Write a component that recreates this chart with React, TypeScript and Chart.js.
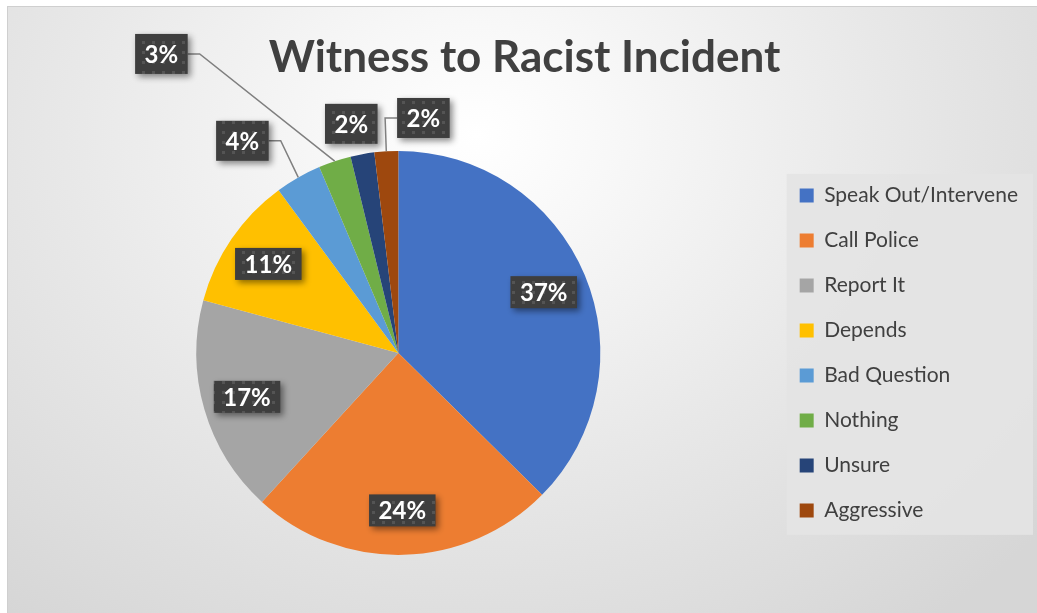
import React, { useEffect, useRef } from "react";
import { Chart, registerables } from "chart.js";

Chart.register(...registerables);

// ---------- data ----------
const chartTitle = "Witness to Racist Incident";
const categories = [
  "Speak Out/Intervene",
  "Call Police",
  "Report It",
  "Depends",
  "Bad Question",
  "Nothing",
  "Unsure",
  "Aggressive",
];
const shares = [37.4, 24.4, 17.4, 10.7, 3.7, 2.6, 1.9, 1.9];
const sliceColors = [
  "#4472C4",
  "#ED7D31",
  "#A5A5A5",
  "#FFC000",
  "#5B9BD5",
  "#70AD47",
  "#264478",
  "#9E480E",
];

// callout placement for the small slices (label centre relative to pie centre, in radii)
const calloutPlacement: Record<number, [number, number]> = {
  4: [-0.772, -1.05],
  5: [-1.173, -1.48],
  6: [-0.233, -1.134],
  7: [0.124, -1.163],
};

const FONT = "Lato, 'Open Sans', sans-serif";

function makePattern(ctx: CanvasRenderingContext2D) {
  const c = document.createElement("canvas");
  c.width = 10;
  c.height = 10;
  const g = c.getContext("2d")!;
  g.fillStyle = "#3e3e3e";
  g.fillRect(0, 0, 10, 10);
  g.fillStyle = "#545454";
  g.fillRect(4, 4, 3, 3);
  return ctx.createPattern(c, "repeat")!;
}

const legendBackground = {
  id: "legendBackground",
  beforeDraw(chart: any) {
    const legend = chart.legend;
    if (!legend || !legend.legendHitBoxes || !legend.legendHitBoxes.length) return;
    const hb = legend.legendHitBoxes;
    let minL = Infinity;
    let maxR = -Infinity;
    hb.forEach((b: any) => {
      minL = Math.min(minL, b.left);
      maxR = Math.max(maxR, b.left + b.width);
    });
    const top = hb[0].top - 11;
    const last = hb[hb.length - 1];
    const bottom = last.top + last.height + 14;
    const ctx = chart.ctx;
    ctx.save();
    ctx.fillStyle = "rgba(228,228,228,0.92)";
    ctx.fillRect(minL - 13, top, maxR - minL + 28, bottom - top);
    ctx.restore();
  },
};

const boxLabels = {
  id: "boxLabels",
  afterDatasetsDraw(chart: any) {
    const ctx: CanvasRenderingContext2D = chart.ctx;
    const meta = chart.getDatasetMeta(0);
    const data = chart.data.datasets[0].data as number[];
    const total = data.reduce((a, b) => a + b, 0);
    const pattern = makePattern(ctx);
    ctx.save();
    ctx.font = `bold 24px ${FONT}`;
    meta.data.forEach((el: any, i: number) => {
      const p = el.getProps(["x", "y", "startAngle", "endAngle", "outerRadius"], true);
      const mid = (p.startAngle + p.endAngle) / 2;
      const r = p.outerRadius;
      const text = Math.round((data[i] / total) * 100) + "%";
      const tw = ctx.measureText(text).width;
      const place = calloutPlacement[i];
      let cx: number;
      let cy: number;
      if (place) {
        cx = p.x + place[0] * r;
        cy = p.y + place[1] * r;
      } else {
        cx = p.x + Math.cos(mid) * r * 0.78;
        cy = p.y + Math.sin(mid) * r * 0.78;
      }
      const w = Math.max(50, tw + 19);
      const h = tw + 19 > 56 ? 32 : 40;
      const bx = cx - w / 2;
      const by = cy - h / 2;

      if (place) {
        const ax = p.x + Math.cos(mid) * r;
        const ay = p.y + Math.sin(mid) * r;
        let sx: number, sy: number, ex: number, ey: number;
        if (ax > bx + w) {
          sx = bx + w; sy = cy; ex = sx + 12; ey = cy;
        } else if (ax < bx) {
          sx = bx; sy = cy; ex = sx - 12; ey = cy;
        } else {
          sx = cx; sy = by + h; ex = cx; ey = sy;
        }
        if (Math.hypot(ax - sx, ay - sy) > 22) {
          ctx.save();
          ctx.strokeStyle = "#7f7f7f";
          ctx.lineWidth = 1.5;
          ctx.beginPath();
          ctx.moveTo(sx, sy);
          ctx.lineTo(ex, ey);
          ctx.lineTo(ax, ay);
          ctx.stroke();
          ctx.restore();
        }
      }

      ctx.save();
      ctx.shadowColor = "rgba(0,0,0,0.45)";
      ctx.shadowBlur = 6;
      ctx.shadowOffsetX = 3;
      ctx.shadowOffsetY = 3;
      ctx.fillStyle = pattern;
      ctx.fillRect(bx, by, w, h);
      ctx.restore();

      ctx.fillStyle = "#ffffff";
      ctx.textAlign = "center";
      ctx.textBaseline = "middle";
      ctx.fillText(text, cx, cy + 1);
    });
    ctx.restore();
  },
};

export default function App() {
  const ref = useRef<HTMLCanvasElement>(null);

  useEffect(() => {
    const chart = new Chart(ref.current!, {
      type: "pie",
      data: {
        labels: categories,
        datasets: [
          {
            data: shares,
            backgroundColor: sliceColors,
            borderWidth: 0,
            radius: 202,
          } as any,
        ],
      },
      options: {
        animation: false,
        responsive: true,
        maintainAspectRatio: false,
        events: [],
        layout: { padding: { left: 13, right: 20, top: 0, bottom: 25 } },
        plugins: {
          tooltip: { enabled: false },
          title: {
            display: true,
            text: chartTitle,
            color: "#404040",
            font: { family: FONT, size: 44, weight: "bold" },
            padding: { top: 24, bottom: 0 },
          },
          legend: {
            display: true,
            position: "right",
            align: "center",
            fullSize: false,
            labels: {
              color: "#404040",
              font: { family: FONT, size: 21 },
              boxWidth: 14,
              boxHeight: 14,
              padding: 24,
            },
          },
        },
      },
      plugins: [legendBackground, boxLabels],
    });
    return () => chart.destroy();
  }, []);

  return (
    <div
      style={{
        position: "fixed",
        left: 7,
        top: 6,
        width: 1040,
        height: 640,
        border: "1px solid #cfcfcf",
        background:
          "radial-gradient(ellipse 72% 95% at 45% 20%, #ffffff 0%, #f8f8f8 18%, #e8e8e8 55%, #d6d6d6 100%)",
      }}
    >
      <div style={{ position: "relative", width: "100%", height: "100%" }}>
        <canvas ref={ref} />
      </div>
    </div>
  );
}
